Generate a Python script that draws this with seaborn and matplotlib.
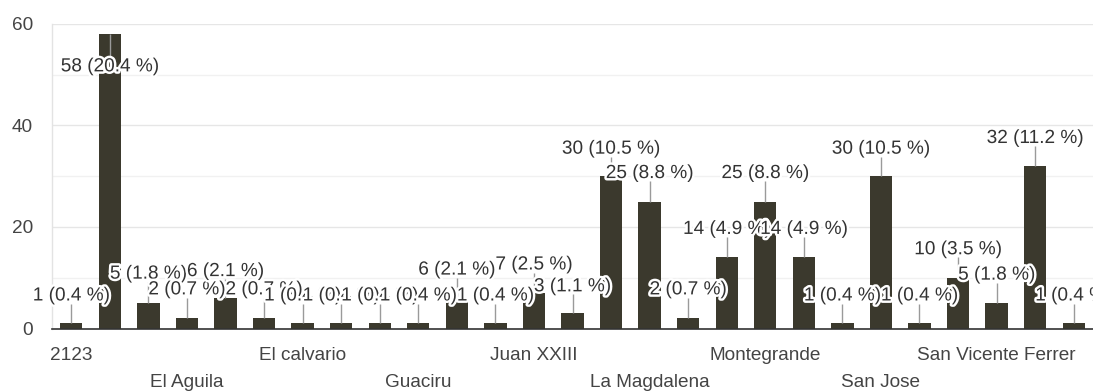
import matplotlib
matplotlib.use("Agg")
import matplotlib.pyplot as plt
import matplotlib.patheffects as pe
import numpy as np
import pandas as pd
import seaborn as sns

# Responses per neighbourhood (one bar per answer option)
counts = [1, 58, 5, 2, 6, 2, 1, 1, 1, 1, 6, 1, 7, 3, 30, 25, 2, 14, 25, 14,
          1, 30, 1, 10, 5, 32, 1]

# Only every third option gets a visible name on the axis
tick_labels = ["2123", "El Aguila", "El calvario", "Guaciru", "Juan XXIII",
               "La Magdalena", "Montegrande", "San Jose", "San Vicente Ferrer"]

# Vertical placement of each value label (data units), staggered to limit overlap
label_heights = [6.4, 51.5, 10.7, 7.6, 11.2, 7.6, 6.4, 6.4, 6.4, 6.4, 11.5, 6.4,
                 12.5, 8.2, 35.3, 30.5, 7.6, 19.5, 30.5, 19.5, 6.4, 35.3, 6.4,
                 15.5, 10.5, 37.4, 6.4]

total = sum(counts)
df = pd.DataFrame({"option": np.arange(len(counts)), "count": counts})

sns.set_theme(style="white")
plt.rcParams["font.family"] = ["Liberation Sans", "DejaVu Sans"]

FS = 13.7
BAR = "#3b392d"

fig = plt.figure(figsize=(10.93, 3.92), dpi=100)
ax = fig.add_axes([52 / 1093, 63.5 / 392, 1041 / 1093, 304.8 / 392])

sns.barplot(data=df, x="option", y="count", color=BAR, width=0.58,
            saturation=1, edgecolor="none", linewidth=0, ax=ax, zorder=2)

ax.set_xlim(-0.5, len(counts) - 0.5)
ax.set_ylim(0, 60)
ax.set_xlabel("")
ax.set_ylabel("")

# Grid: major every 20, lighter minor every 10
ax.set_yticks([0, 20, 40, 60])
ax.set_yticks([10, 30, 50], minor=True)
ax.grid(axis="y", which="major", color="#e6e6e6", linewidth=1, zorder=0)
ax.grid(axis="y", which="minor", color="#f1f1f1", linewidth=1, zorder=0)
ax.set_axisbelow(True)

for side in ("top", "right"):
    ax.spines[side].set_visible(False)
ax.spines["left"].set_color("#e3e3e3")
ax.spines["left"].set_linewidth(1)
ax.spines["bottom"].set_color("#333333")
ax.spines["bottom"].set_linewidth(1.2)
ax.spines["bottom"].set_zorder(4)

ax.tick_params(axis="y", which="both", length=0, pad=13.5, labelsize=FS,
               labelcolor="#444444")
ax.tick_params(axis="x", length=0, labelsize=FS, labelcolor="#444444")

# Category names on two alternating rows
shown = list(range(0, len(counts), 3))
ax.set_xticks(shown)
ax.set_xticklabels(tick_labels)
for i, tick in enumerate(ax.xaxis.get_major_ticks()):
    tick.set_pad(13.6 if i % 2 == 0 else 33.0)

# Leader lines from each bar top towards its label
half_h = 1.5
for i, (c, ly) in enumerate(zip(counts, label_heights)):
    end = ly - half_h if ly > c else ly + half_h
    ax.plot([i, i], [c, end], color="#9a9a9a", linewidth=1, zorder=3,
            solid_capstyle="butt")

# Value labels "n (p %)" with a white halo
halo = [pe.withStroke(linewidth=3.5, foreground="white")]
for i, (c, ly) in enumerate(zip(counts, label_heights)):
    txt = f"{c} ({100 * c / total:.1f} %)"
    ax.text(i, ly, txt, ha="center", va="center", fontsize=FS,
            color="#333333", zorder=5, path_effects=halo, clip_on=False)

fig.savefig("out.png", dpi=100)
